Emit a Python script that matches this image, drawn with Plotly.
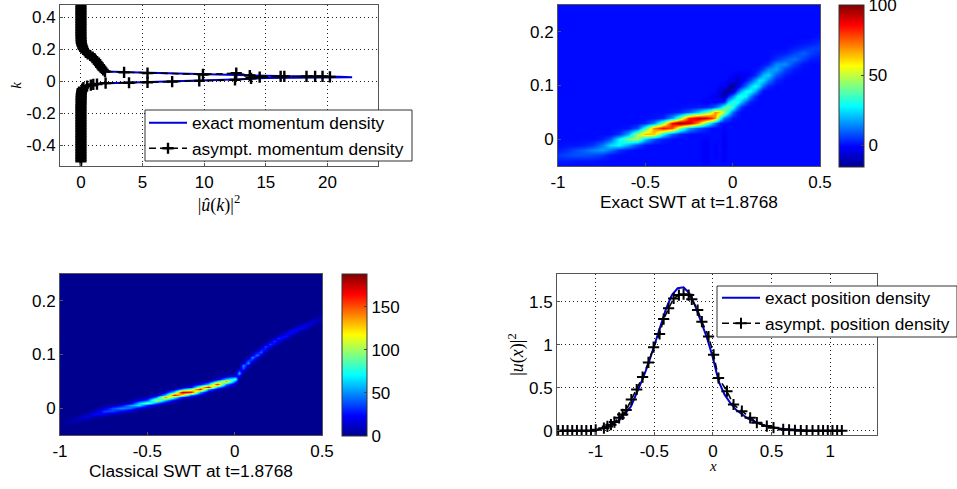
import numpy as np
import plotly.graph_objects as go

W, H = 957, 489
SANS = "Liberation Sans, Arial, sans-serif"
SERIF = "Liberation Serif, DejaVu Serif, serif"
JET = [[0, "rgb(0,0,143)"], [0.125, "rgb(0,0,255)"], [0.375, "rgb(0,255,255)"],
       [0.625, "rgb(255,255,0)"], [0.875, "rgb(255,0,0)"], [1, "rgb(128,0,0)"]]

# ---- momentum density (panel 1) ----
mom_exact_k = [-0.5, -0.1, -0.05, -0.03, -0.015, -0.008, 0, 0.006, 0.012, 0.02, 0.025,
               0.027, 0.03, 0.035, 0.04, 0.045, 0.05, 0.055, 0.06, 0.08, 0.12, 0.17, 0.2, 0.25, 0.47]
mom_exact_x = [0, 0.02, 0.1, 0.5, 1.5, 5, 8, 11, 13, 15, 22,
               21, 17, 14, 12, 9, 6, 4, 2, 1.7, 1.3, 0.55, 0.2, 0.03, 0]
mom_asym_k = [-0.5, -0.49, -0.48, -0.47, -0.46, -0.45, -0.44, -0.43, -0.42, -0.41, -0.4, -0.39, -0.38, -0.37,
              -0.36, -0.35, -0.34, -0.33, -0.32, -0.31, -0.3, -0.29, -0.28, -0.27, -0.26, -0.25, -0.24, -0.23,
              -0.22, -0.21, -0.2, -0.19, -0.18, -0.17, -0.16, -0.15, -0.14, -0.13, -0.12, -0.11, -0.1, -0.09,
              -0.08, -0.07, -0.06, -0.05, -0.04, -0.03, -0.025, -0.02, -0.018, -0.012, -0.01, -0.007, -0.003,
              0.002, 0.008, 0.018, 0.025, 0.03, 0.03, 0.03, 0.027, 0.03, 0.03, 0.035, 0.05, 0.042, 0.05, 0.055,
              0.06, 0.07, 0.08, 0.09, 0.1, 0.11, 0.12, 0.13, 0.14, 0.15, 0.16, 0.17, 0.18, 0.19, 0.2, 0.21, 0.22,
              0.23, 0.24, 0.25, 0.26, 0.27, 0.28, 0.29, 0.3, 0.31, 0.32, 0.33, 0.34, 0.35, 0.36, 0.37, 0.38, 0.39,
              0.4, 0.41, 0.42, 0.43, 0.44, 0.45, 0.46, 0.47]
mom_asym_x = [0, 0, 0, 0, 0, 0, 0, 0, 0, 0, 0, 0, 0, 0,
              0, 0, 0, 0, 0, 0, 0, 0, 0, 0, 0, 0, 0, 0,
              0, 0, 0, 0, 0, 0, 0, 0, 0.01, 0.01, 0.01, 0.01, 0.02, 0.02,
              0.03, 0.05, 0.07, 0.1, 0.2, 0.5, 0.8, 1.0, 1.3, 2, 3.9, 5.4, 7.4,
              9.6, 12.5, 13.8, 14.5, 16.2, 18.3, 19.6, 20.2, 19, 16.5, 13.7, 12.6, 9.9, 5.4, 3.5,
              1.95, 1.8, 1.7, 1.6, 1.5, 1.4, 1.3, 1.2, 1.1, 0.95, 0.75, 0.55, 0.4, 0.3, 0.2, 0.15, 0.1,
              0.06, 0.03, 0.02, 0.01, 0.01, 0, 0, 0, 0, 0, 0, 0, 0, 0, 0, 0, 0,
              0, 0, 0, 0, 0, 0, 0, 0]

# ---- position density (panel 4) ----
pos_exact_x = [-1.3, -1, -0.9, -0.8, -0.7, -0.65, -0.6, -0.55, -0.5, -0.45, -0.4, -0.35, -0.3, -0.25, -0.2,
               -0.15, -0.1, -0.05, 0, 0.03, 0.05, 0.1, 0.15, 0.2, 0.3, 0.4, 0.5, 0.6, 0.7, 0.8, 1, 1.1]
pos_exact_y = [0, 0.003, 0.05, 0.12, 0.28, 0.43, 0.6, 0.78, 1.0, 1.22, 1.42, 1.58, 1.66, 1.67, 1.6,
               1.45, 1.27, 1.08, 0.85, 0.68, 0.57, 0.42, 0.32, 0.24, 0.14, 0.08, 0.04, 0.02, 0.008, 0.003, 0, 0]
pos_asym_x = [-1.32, -1.28, -1.24, -1.2, -1.16, -1.12, -1.08, -1.04, -1, -0.93, -0.9, -0.87, -0.84, -0.8, -0.77,
              -0.74, -0.696, -0.65, -0.6, -0.55, -0.506, -0.455, -0.42, -0.378, -0.335, -0.29, -0.25, -0.207,
              -0.18, -0.13, -0.094, -0.037, 0.006, 0.048, 0.12, 0.176, 0.247, 0.318, 0.375, 0.46, 0.517, 0.6,
              0.65, 0.7, 0.75, 0.8, 0.85, 0.9, 0.94, 0.98, 1.02, 1.06, 1.1]
pos_asym_y = [0, 0, 0, 0, 0, 0, 0, 0, 0.01, 0.03, 0.05, 0.07, 0.1, 0.15, 0.19,
              0.24, 0.363, 0.48, 0.625, 0.795, 0.973, 1.127, 1.3, 1.425, 1.54, 1.58, 1.59, 1.58,
              1.53, 1.405, 1.27, 1.097, 0.884, 0.614, 0.46, 0.305, 0.228, 0.15, 0.093, 0.054, 0.035, 0.015,
              0.01, 0.005, 0, 0, 0, 0, 0, 0, 0, 0, 0]

# ---- exact SWT, read column by column: first row index and the values upward from it ----
exact_x = [-1, -0.95, -0.9, -0.85, -0.8, -0.75, -0.7, -0.65, -0.6, -0.55, -0.5, -0.45, -0.4, -0.35, -0.3, -0.25,
           -0.2, -0.15, -0.125, -0.1, -0.075, -0.05, -0.025, 0, 0.025, 0.05, 0.075, 0.1, 0.125, 0.15, 0.175, 0.2,
           0.25, 0.3, 0.35, 0.4, 0.45, 0.5]
exact_y = [-0.05, -0.04, -0.03, -0.02, -0.01, 0, 0.01, 0.02, 0.03, 0.04, 0.05, 0.06, 0.07, 0.08, 0.09, 0.1,
           0.11, 0.12, 0.13, 0.14, 0.15, 0.16, 0.17, 0.18, 0.19, 0.2, 0.21, 0.22, 0.23, 0.24, 0.25]
exact_first_row = [1, 1, 1, 1, 1, 2, 2, 3, 3, 4, 4, 5, 5, 6, 6, 7,
                   7, 1, 8, 2, 8, 1, 9, 9, 10, 11, 12, 12, 13, 14, 15, 15,
                   16, 17, 18, 19, 20, 20]
exact_columns = [
    [2, 5, 2], [2, 7, 4, 1], [1, 8, 7, 1], [1, 8, 10, 2], [1, 7, 14, 5],
    [5, 17, 12, 2], [1, 12, 24, 8], [4, 28, 28, 4], [1, 18, 42, 18, 1], [7, 46, 46, 7],
    [1, 22, 64, 33, 3], [8, 62, 70, 14, 1], [2, 29, 85, 43, 3], [9, 77, 86, 17, 1],
    [3, 42, 100, 42, 3], [18, 92, 82, 10, 1], [8, 69, 93, 22, 2],
    [-2, -2, -2, -2, -1, 0, 3, 38, 90, 38, 3, -2],
    [24, 82, 50, 5, 0, -2],
    [-1, -1, -1, 0, 0, 0, 11, 69, 69, 11, -2, -3],
    [2, 31, 61, 21, 1, -5, -6, -1],
    [-1, -2, -2, -3, -3, -2, -1, 0, 11, 47, 35, 4, -12, -11, -2],
    [7, 28, 42, 23, 2, -14, -9, -1],
    [1, 10, 30, 33, 14, -8, -14, -5, -1],
    [3, 15, 32, 27, 8, -6, -9, -2],
    [4, 20, 33, 20, 2, -4, -3],
    [9, 27, 29, 12, 1, -2],
    [2, 15, 29, 22, 6, -1],
    [4, 19, 29, 16, 3],
    [8, 23, 25, 10, 2],
    [11, 24, 20, 6, 1],
    [3, 14, 23, 14, 3],
    [3, 9, 18, 14, 4, 1],
    [2, 7, 15, 9, 2],
    [2, 6, 12, 6, 2],
    [1, 6, 10, 4, 1],
    [2, 6, 6, 2],
    [1, 3, 6, 4, 1],
]

# ---- classical SWT, same layout ----
classical_x = [-1, -0.95, -0.9, -0.85, -0.8, -0.75, -0.7, -0.65, -0.6, -0.55, -0.5, -0.45, -0.4, -0.35, -0.3, -0.25,
               -0.2, -0.15, -0.1, -0.05, 0, 0.025, 0.05, 0.075, 0.1, 0.125, 0.15, 0.175, 0.2, 0.225, 0.25, 0.275,
               0.3, 0.325, 0.35, 0.375, 0.4, 0.425, 0.45, 0.475, 0.5]
classical_y = [-0.05, -0.045, -0.04, -0.035, -0.03, -0.025, -0.02, -0.015, -0.01, -0.005, 0, 0.005, 0.01, 0.015,
               0.02, 0.025, 0.03, 0.035, 0.04, 0.045, 0.05, 0.055, 0.06, 0.065, 0.07, 0.075, 0.08, 0.085, 0.09,
               0.095, 0.1, 0.105, 0.11, 0.115, 0.12, 0.125, 0.13, 0.135, 0.14, 0.145, 0.15, 0.155, 0.16, 0.165,
               0.17, 0.175, 0.18, 0.185, 0.19, 0.195, 0.2, 0.205, 0.21, 0.215, 0.22, 0.225, 0.23, 0.235, 0.24,
               0.245, 0.25]
classical_first_row = [0, 4, 5, 6, 7, 7, 8, 8, 9, 10, 10, 11, 12, 13, 14, 14,
                       15, 16, 17, 18, 19, 21, 24, 25, 27, 28, 30, 31, 32, 33, 34, 35,
                       36, 37, 38, 38, 39, 40, 41, 42, 42]
classical_columns = [
    [0], [2, 5, 2], [4, 10, 4], [7, 18, 7], [9, 25, 9, 1], [4, 20, 35, 14, 2], [8, 36, 36, 8], [3, 22, 50, 22, 3],
    [10, 42, 52, 14, 2], [16, 68, 62, 18, 3], [5, 30, 90, 36, 8], [10, 45, 110, 45, 8], [12, 60, 140, 60, 12],
    [20, 80, 165, 70, 12], [25, 115, 175, 55, 8], [8, 45, 165, 100, 25, 4], [12, 55, 165, 105, 22, 3],
    [10, 55, 170, 60, 8], [12, 60, 160, 65, 12], [12, 50, 135, 60, 12], [8, 45, 85, 25, 3],
    [2, 19, 58, 36, 5], [7, 41, 48, 12, 1], [1, 17, 50, 31, 4], [4, 30, 48, 16, 1], [2, 21, 46, 21, 2],
    [13, 41, 25, 3], [5, 28, 33, 8], [3, 21, 34, 11, 1], [3, 20, 32, 11, 1], [2, 19, 30, 10, 1], [4, 22, 26, 6],
    [6, 25, 21, 4], [6, 23, 20, 3], [8, 24, 15, 2], [1, 10, 23, 10, 1], [3, 16, 18, 5], [4, 16, 13, 2],
    [5, 15, 9, 1], [5, 12, 5], [1, 5, 9, 3],
]

xticks_swt = [-1, -0.5, 0, 0.5]
xticklabels_swt = ["-1", "-0.5", "0", "0.5"]
yticks_swt = [0, 0.1, 0.2]
yticklabels_swt = ["0", "0.1", "0.2"]


def table(xs, ys, first_rows, columns):
    z = np.zeros((len(ys), len(xs)))
    for c, (start, vals) in enumerate(zip(first_rows, columns)):
        for r, v in enumerate(vals):
            z[start + r, c] = v
    return z


def dom(a, b, size):
    return [a / size, b / size]


def ydom(top, bottom):
    return [1 - bottom / H, 1 - top / H]


def legend_box(left, top, right, bottom):
    return dict(type="rect", xref="paper", yref="paper", x0=left / W, x1=right / W, y0=1 - bottom / H, y1=1 - top / H,
                fillcolor="white", line=dict(color="#333", width=1), layer="above")


fig = go.Figure()

DASH = "7px,4px"
line_black = dict(color="black", width=1.6, dash=DASH)
plus = dict(symbol="cross-thin", size=8, color="black", line=dict(color="black", width=2))
plus_dense = dict(symbol="cross-thin", size=8, color="black", line=dict(color="black", width=2.4))

fig.add_trace(go.Scatter(x=mom_exact_x, y=mom_exact_k, mode="lines", name="exact momentum density",
                         line=dict(color="#0000d8", width=2), xaxis="x", yaxis="y", legend="legend"))
fig.add_trace(go.Scatter(x=mom_asym_x, y=mom_asym_k, mode="lines+markers", name="asympt. momentum density",
                         line=line_black, marker=plus_dense, xaxis="x", yaxis="y", legend="legend"))

CB_FONT = dict(size=17, family=SANS, color="black")
fig.add_trace(go.Heatmap(x=exact_x, y=exact_y, z=table(exact_x, exact_y, exact_first_row, exact_columns),
                         zmin=-15.5, zmax=100, colorscale=JET, zsmooth="best", xaxis="x2", yaxis="y2",
                         colorbar=dict(x=839 / W, xanchor="left", y=1 - 5 / H, yanchor="top", thickness=25,
                                       thicknessmode="pixels", len=162, lenmode="pixels", xpad=0, ypad=0,
                                       tickvals=[0, 50, 100], ticktext=["0", "50", "100"], ticks="inside", ticklen=3,
                                       ticklabeloverflow="allow", tickfont=CB_FONT,
                                       outlinecolor="#333", outlinewidth=1)))

fig.add_trace(go.Heatmap(x=classical_x, y=classical_y,
                         z=table(classical_x, classical_y, classical_first_row, classical_columns),
                         zmin=0, zmax=188, colorscale=JET, zsmooth="best", xaxis="x3", yaxis="y3",
                         colorbar=dict(x=342 / W, xanchor="left", y=1 - 274 / H, yanchor="top", thickness=25,
                                       thicknessmode="pixels", len=162, lenmode="pixels", xpad=0, ypad=0,
                                       tickvals=[0, 50, 100, 150], ticktext=["0", "50", "100", "150"],
                                       ticks="inside", ticklen=3, ticklabeloverflow="allow", tickfont=CB_FONT,
                                       outlinecolor="#333", outlinewidth=1)))

fig.add_trace(go.Scatter(x=pos_exact_x, y=pos_exact_y, mode="lines", name="exact position density",
                         line=dict(color="#0000d8", width=2), xaxis="x4", yaxis="y4", legend="legend2"))
fig.add_trace(go.Scatter(x=pos_asym_x, y=pos_asym_y, mode="lines+markers", name="asympt. position density",
                         line=line_black, marker=plus, xaxis="x4", yaxis="y4", legend="legend2"))

tick = dict(size=17, family=SANS, color="black")
frame = dict(showline=True, mirror=True, linecolor="#555", linewidth=1, ticks="inside", ticklen=3, tickcolor="#555",
             tickfont=tick, zeroline=False)
xframe = dict(ticklabelstandoff=1, **frame)
grid = dict(showgrid=True, gridcolor="#222", griddash="1px,3px", gridwidth=1)
nogrid = dict(showgrid=False)
serif_title = dict(size=18, family=SERIF, color="black")
serif_small = dict(size=15, family=SERIF, color="black")
sans_title = dict(size=17.3, family=SANS, color="black")

fig.update_layout(
    width=W, height=H, autosize=False, margin=dict(l=0, r=0, t=0, b=0, autoexpand=False),
    paper_bgcolor="white", plot_bgcolor="white", font=dict(family=SANS, color="black"),
    xaxis=dict(domain=dom(60, 378, W), range=[-1.7, 24.1], anchor="y", tickvals=[0, 5, 10, 15, 20],
               ticktext=["0", "5", "10", "15", "20"],
               title=dict(text="|<i>û</i>(<i>k</i>)|<sup>2</sup>", font=serif_title, standoff=3), **xframe, **grid),
    yaxis=dict(domain=ydom(5, 166), range=[-0.529, 0.475], anchor="x", tickvals=[-0.4, -0.2, 0, 0.2, 0.4],
               ticktext=["-0.4", "-0.2", "0", "0.2", "0.4"],
               title=dict(text="<i>k</i>", font=serif_small, standoff=1), **frame, **grid),
    xaxis2=dict(domain=dom(558, 820, W), range=[-1, 0.5], anchor="y2", tickvals=xticks_swt, ticktext=xticklabels_swt,
                title=dict(text="Exact SWT at t=1.8768", font=sans_title, standoff=0), **xframe, **nogrid),
    yaxis2=dict(domain=ydom(5, 166), range=[-0.05, 0.25], anchor="x2", tickvals=yticks_swt, ticktext=yticklabels_swt,
                **frame, **nogrid),
    xaxis3=dict(domain=dom(60, 322, W), range=[-1, 0.5], anchor="y3", tickvals=xticks_swt, ticktext=xticklabels_swt,
                title=dict(text="Classical SWT at t=1.8768", font=sans_title, standoff=0), **xframe, **nogrid),
    yaxis3=dict(domain=ydom(274, 435), range=[-0.05, 0.25], anchor="x3", tickvals=yticks_swt, ticktext=yticklabels_swt,
                **frame, **nogrid),
    xaxis4=dict(domain=dom(557, 877, W), range=[-1.33, 1.4], anchor="y4", tickvals=[-1, -0.5, 0, 0.5, 1],
                ticktext=["-1", "-0.5", "0", "0.5", "1"], **xframe, **grid),
    yaxis4=dict(domain=ydom(274, 435), range=[-0.05, 1.825], anchor="x4", tickvals=[0, 0.5, 1, 1.5],
                ticktext=["0", "0.5", "1", "1.5"],
                title=dict(text="|<i>u</i>(<i>x</i>)|<sup>2</sup>", font=serif_title, standoff=0), **frame, **grid),
    shapes=[legend_box(145, 110, 412, 161), legend_box(717, 286, 957, 337)],
    annotations=[dict(text="<i>x</i>", xref="x4", x=0, yref="paper", y=1 - 466 / H, yanchor="middle",
                      showarrow=False, font=serif_small)],
    legend=dict(x=144 / W, xanchor="left", y=1 - 105 / H, yanchor="top", bgcolor="rgba(0,0,0,0)",
                borderwidth=0, font=dict(size=17.3, family=SANS, color="black"), itemwidth=38, tracegroupgap=0),
    legend2=dict(x=717 / W, xanchor="left", y=1 - 280 / H, yanchor="top", bgcolor="rgba(0,0,0,0)",
                 borderwidth=0, font=dict(size=17.3, family=SANS, color="black"), itemwidth=38, tracegroupgap=0),
)

fig.write_html("out.html", config={"displayModeBar": False},
               post_script="document.body.style.margin='0';document.body.style.overflow='hidden';")
